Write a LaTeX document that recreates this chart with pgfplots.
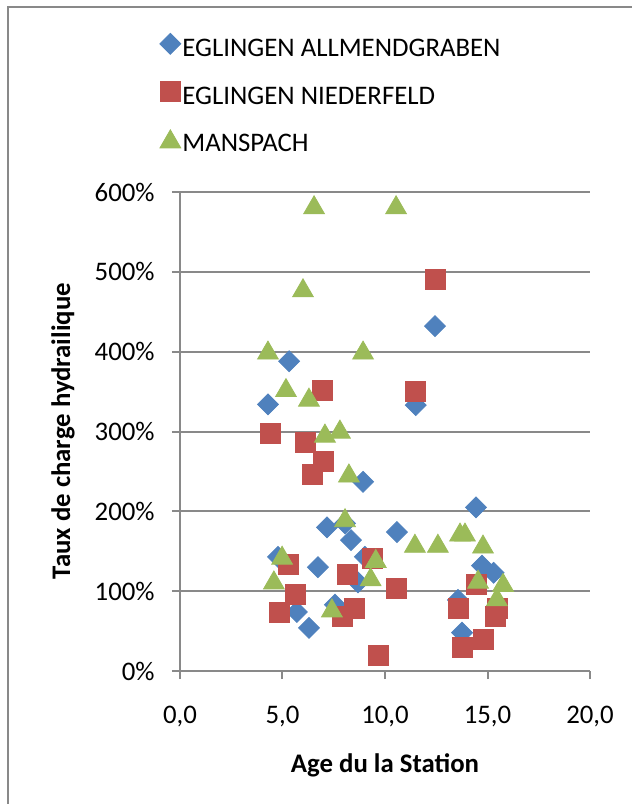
\documentclass[border=0pt]{standalone}
\usepackage{fontspec}
\setmainfont{Carlito}
\usepackage{pgfplots}
\pgfplotsset{compat=1.18}
\definecolor{cblue}{HTML}{4F81BD}
\definecolor{cred}{HTML}{C0504D}
\definecolor{cgreen}{HTML}{9BBB59}
\definecolor{cgrid}{HTML}{898989}
\begin{document}
\begin{tikzpicture}[font=\fontsize{13.4}{15}\selectfont]
\useasboundingbox (0,0) rectangle (316pt,402pt);
\draw[cgrid, line width=1pt] (4pt,0pt) -- (4pt,398.5pt) -- (316pt,398.5pt);
\begin{axis}[
  at={(90pt,66.5pt)}, anchor=origin,
  scale only axis, width=205pt, height=239.5pt,
  xmin=0, xmax=20, ymin=0, ymax=600,
  xtick={0,5,10,15,20}, ytick={0,100,200,300,400,500,600},
  axis x line*=bottom, axis y line*=left,
  axis line style={cgrid, line width=1pt, -},
  ymajorgrids, major grid style={cgrid, line width=1pt},
  tick align=outside, major tick length=4pt,
  tick style={cgrid, line width=1pt},
  xtick pos=bottom, ytick pos=left,
  /pgf/number format/assume math mode=true,
  xticklabel={\pgfmathprintnumber[fixed,fixed zerofill,precision=1,use comma,assume math mode=true]{\tick}},
  xticklabel style={anchor=center, yshift=-19pt},
  yticklabel={\pgfmathprintnumber[fixed,precision=0,assume math mode=true]{\tick}\%},
  yticklabel style={anchor=east, inner sep=0pt, xshift=-8.5pt},
  xlabel={\textbf{Age du la Station}},
  ylabel={\textbf{Taux de charge hydrailique}},
  xlabel style={at={(axis description cs:0.5,-0.196)}, anchor=center},
  ylabel style={at={(axis description cs:-0.2854,0.501)}, anchor=center},
  legend style={at={(axis description cs:-0.05,1.332)}, anchor=north west,
    draw=none, fill=none, inner sep=0pt, row sep=9.5pt, column sep=0.8pt,
    nodes={inner sep=0pt, text height=9pt, text depth=3pt, anchor=west}},
  legend cell align=left,
  legend image code/.code={\draw[#1] plot coordinates {(0pt,0.35em)};},
  clip=false,
]
\addplot[only marks, mark=square*, mark size=3.7pt, mark options={rotate=45, fill=cblue, draw=cblue}]
coordinates {
(4.29,334) (4.78,143) (5.32,388) (5.70,74) (6.29,54) (6.73,130) (7.17,180)
(7.56,83) (8.05,185) (8.34,164) (8.68,111) (8.93,237) (9.02,143) (10.58,174)
(11.50,333) (12.44,432) (13.56,89) (13.76,48) (14.44,205) (14.73,132) (15.30,123)
};
\addlegendentry{EGLINGEN ALLMENDGRABEN}
\addplot[only marks, mark=square*, mark size=5pt, mark options={fill=cred, draw=cred}]
coordinates {
(4.39,298) (4.83,74) (5.27,133) (5.61,96) (6.10,286) (6.44,246) (6.93,351)
(6.98,263) (7.90,68) (8.15,121) (8.49,78) (9.40,141) (9.70,20) (10.58,103)
(11.50,350) (12.44,490) (13.60,79) (13.76,30) (14.44,109) (14.78,39) (15.37,69) (15.46,78)
};
\addlegendentry{EGLINGEN NIEDERFELD}
\addplot[only marks, mark=triangle*, mark size=6pt, mark options={fill=cgreen, draw=cgreen, yshift=-1.5pt}]
coordinates {
(4.29,402) (4.58,114) (4.98,145) (5.17,355) (6.00,480) (6.29,343) (6.54,584)
(7.07,298) (7.41,79) (7.80,303) (8.05,192) (8.24,248) (8.93,402) (9.30,118)
(9.55,141) (10.54,584) (11.46,160) (12.58,160) (13.66,174) (13.90,174)
(14.54,115) (14.78,159) (15.46,93) (15.76,111)
};
\addlegendentry{MANSPACH}
\end{axis}
\end{tikzpicture}
\end{document}
